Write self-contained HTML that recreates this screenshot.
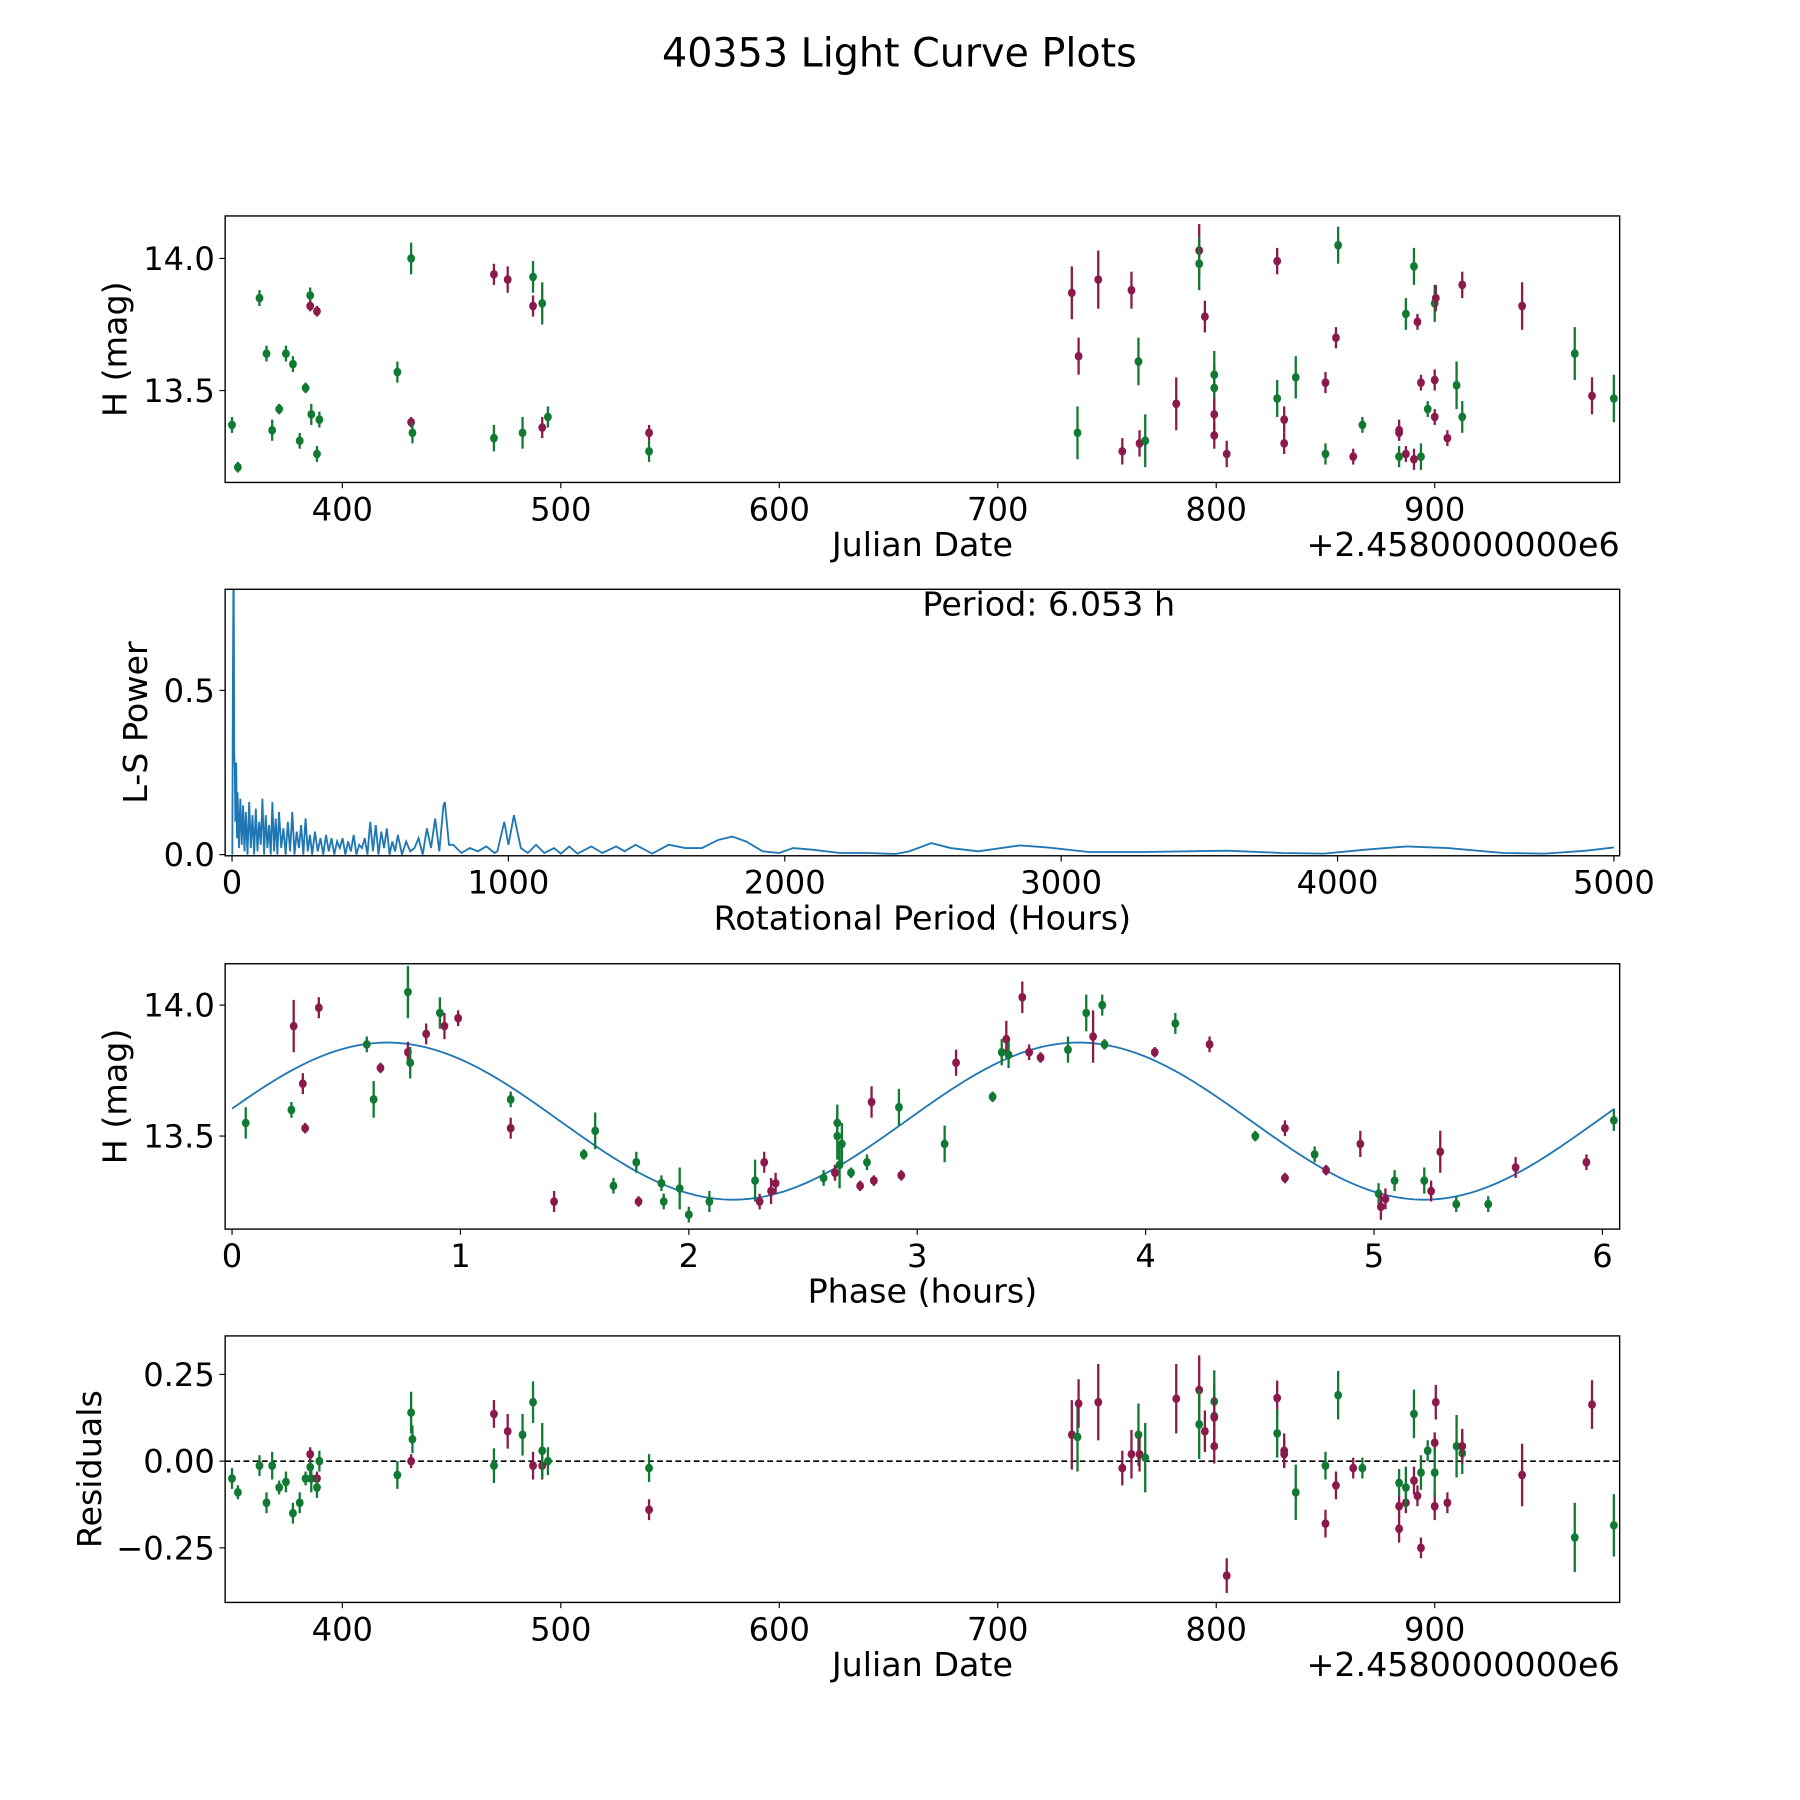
<!DOCTYPE html>
<html><head><meta charset="utf-8"><title>40353 Light Curve Plots</title>
<style>html,body{margin:0;padding:0;background:#fff}svg{display:block}text{font-family:"DejaVu Sans","Liberation Sans",sans-serif;fill:#000}</style>
</head><body>
<svg id="fig" xmlns="http://www.w3.org/2000/svg" width="1800" height="1800" viewBox="0 0 1567 1567">
<rect width="1567" height="1567" fill="#fff"/>
<text x="783" y="58" font-size="34.5" text-anchor="middle">40353 Light Curve Plots</text>
</svg>
<script>
// ---- Panel 1: light curve (date offset from 2458000, mag, err, color g/m)
const lcDates=[349.5,352.2,362.1,365.3,367.9,371.1,374.2,377.4,380.5,383.2,385.3,385.3,385.8,388.4,388.4,389.5,425.2,431.5,431.5,432.1,469.4,469.4,475.7,482.5,487.3,487.3,491.5,491.5,494.1,540.4,540.4,733.9,736.5,737.0,746.0,757.0,761.2,764.4,764.9,767.5,781.7,792.2,792.2,794.8,799.1,799.1,799.1,799.1,804.8,827.9,827.9,831.1,831.1,836.4,850.0,850.0,854.8,855.8,862.7,866.9,883.7,883.7,883.7,886.8,886.8,890.5,890.5,892.1,893.7,893.7,896.8,900.0,900.0,900.0,900.5,905.8,910.0,912.6,912.6,940.0,964.1,972.0,982.0];
const lcMags=[13.37,13.21,13.85,13.64,13.35,13.43,13.64,13.60,13.31,13.51,13.86,13.82,13.41,13.80,13.26,13.39,13.57,13.38,14.00,13.34,13.94,13.32,13.92,13.34,13.93,13.82,13.36,13.83,13.40,13.34,13.27,13.87,13.34,13.63,13.92,13.27,13.88,13.61,13.30,13.31,13.45,14.03,13.98,13.78,13.56,13.51,13.41,13.33,13.26,13.99,13.47,13.39,13.30,13.55,13.53,13.26,13.70,14.05,13.25,13.37,13.35,13.25,13.34,13.26,13.79,13.97,13.24,13.76,13.25,13.53,13.43,13.54,13.40,13.83,13.85,13.32,13.52,13.40,13.90,13.82,13.64,13.48,13.47];
const lcErrs=[0.03,0.02,0.03,0.03,0.04,0.02,0.03,0.03,0.03,0.02,0.03,0.02,0.04,0.02,0.03,0.03,0.04,0.02,0.06,0.04,0.04,0.05,0.05,0.06,0.06,0.04,0.04,0.08,0.04,0.03,0.04,0.10,0.10,0.07,0.11,0.05,0.07,0.09,0.05,0.10,0.10,0.10,0.10,0.06,0.09,0.09,0.06,0.05,0.05,0.05,0.07,0.05,0.04,0.08,0.04,0.04,0.04,0.07,0.03,0.03,0.04,0.04,0.03,0.03,0.06,0.07,0.04,0.03,0.05,0.03,0.03,0.04,0.03,0.07,0.05,0.03,0.09,0.06,0.05,0.09,0.10,0.07,0.09];
const lcColors=['g','g','g','g','g','g','g','g','g','g','g','m','g','m','g','g','g','m','g','g','m','g','m','g','g','m','m','g','g','m','g','m','g','m','m','m','m','g','m','g','m','m','g','m','g','g','m','m','m','m','g','m','m','g','m','g','m','g','m','g','m','g','m','m','g','g','m','m','g','m','g','m','m','g','m','m','g','g','m','m','g','m','g'];
// ---- Panel 2: periodogram (hours, power)
const lsPeriods=[1,3,5,6,8,10,12,15,18,20,25,30,35,40,45,50,56,62,68,74,80,86,92,98,104,110,116,122,128,134,140,146,152,158,164,170,178,186,194,202,210,218,226,234,242,250,258,266,274,282,290,300,310,320,330,340,350,360,370,380,390,400,410,420,430,440,450,460,470,480,490,500,510,520,530,540,550,560,570,580,590,600,615,630,645,660,675,690,705,720,735,750,765,770,785,800,830,860,890,920,950,960,985,1000,1020,1045,1070,1100,1130,1165,1190,1220,1250,1300,1340,1390,1420,1460,1520,1580,1640,1700,1760,1810,1860,1920,1980,2030,2100,2200,2300,2400,2450,2530,2600,2700,2850,2950,3100,3300,3600,3800,3950,4100,4250,4400,4600,4750,4900,5000];
const lsPower=[0.0,0.5,0.82,0.86,0.3,0.26,0.1,0.28,0.05,0.19,0.02,0.17,0.03,0.15,0.01,0.13,0.0,0.16,0.02,0.12,0.0,0.14,0.01,0.1,0.03,0.17,0.0,0.12,0.02,0.09,0.0,0.16,0.01,0.11,0.0,0.13,0.02,0.08,0.0,0.1,0.01,0.13,0.0,0.07,0.02,0.09,0.0,0.11,0.01,0.06,0.0,0.07,0.01,0.05,0.0,0.06,0.01,0.05,0.0,0.04,0.02,0.05,0.0,0.04,0.01,0.06,0.0,0.03,0.02,0.05,0.0,0.1,0.01,0.09,0.0,0.07,0.02,0.08,0.0,0.04,0.01,0.06,0.0,0.04,0.01,0.02,0.05,0.0,0.08,0.02,0.11,0.01,0.15,0.16,0.03,0.03,0.005,0.02,0.01,0.025,0.005,0.01,0.1,0.03,0.12,0.02,0.005,0.03,0.005,0.02,0.003,0.025,0.003,0.025,0.005,0.025,0.01,0.03,0.003,0.03,0.02,0.02,0.045,0.055,0.04,0.01,0.005,0.02,0.015,0.005,0.005,0.002,0.01,0.035,0.02,0.01,0.028,0.022,0.008,0.008,0.012,0.005,0.003,0.015,0.025,0.02,0.005,0.003,0.012,0.022];
// ---- Panel 3: phased curve (hours, mag, color)
const phHours=[0.06,0.27,0.26,0.31,0.32,0.38,0.59,0.62,0.65,0.77,0.77,0.78,0.85,0.91,0.93,0.99,1.22,1.22,1.41,1.54,1.59,1.67,1.77,1.78,1.88,1.89,1.96,2.00,2.09,2.29,2.31,2.33,2.36,2.38,2.59,2.64,2.64,2.65,2.65,2.66,2.67,2.71,2.75,2.78,2.80,2.81,2.92,2.93,3.12,3.17,3.33,3.37,3.39,3.40,3.46,3.49,3.54,3.66,3.74,3.77,3.81,3.82,4.04,4.13,4.28,4.48,4.61,4.61,4.74,4.79,4.94,5.02,5.03,5.05,5.09,5.22,5.25,5.29,5.36,5.50,5.62,5.93,6.05];
const phMags=[13.55,13.92,13.60,13.70,13.53,13.99,13.85,13.64,13.76,14.05,13.82,13.78,13.89,13.97,13.92,13.95,13.64,13.53,13.25,13.43,13.52,13.31,13.40,13.25,13.32,13.25,13.30,13.20,13.25,13.33,13.25,13.40,13.29,13.32,13.34,13.36,13.36,13.55,13.50,13.39,13.47,13.36,13.31,13.40,13.63,13.33,13.61,13.35,13.47,13.78,13.65,13.82,13.87,13.81,14.03,13.82,13.80,13.83,13.97,13.88,14.00,13.85,13.82,13.93,13.85,13.50,13.53,13.34,13.43,13.37,13.47,13.28,13.23,13.26,13.33,13.33,13.29,13.44,13.24,13.24,13.38,13.40,13.56];
const phErrs=[0.06,0.10,0.03,0.04,0.02,0.04,0.03,0.07,0.02,0.1,0.04,0.06,0.04,0.06,0.05,0.03,0.03,0.04,0.04,0.02,0.07,0.03,0.04,0.02,0.03,0.03,0.08,0.03,0.04,0.08,0.03,0.04,0.05,0.04,0.03,0.03,0.03,0.07,0.09,0.09,0.08,0.02,0.02,0.03,0.06,0.02,0.07,0.02,0.07,0.05,0.02,0.05,0.07,0.05,0.06,0.03,0.02,0.05,0.07,0.1,0.04,0.02,0.02,0.04,0.03,0.02,0.03,0.02,0.03,0.02,0.05,0.04,0.05,0.04,0.04,0.05,0.04,0.08,0.03,0.03,0.04,0.03,0.04];
const phColors=['g','m','g','m','m','m','g','g','m','g','m','g','m','g','m','m','g','m','m','g','g','g','g','m','g','g','g','g','g','g','m','m','m','m','g','g','m','g','g','g','g','g','m','g','m','m','g','m','g','m','g','g','m','g','m','m','m','g','g','m','g','g','m','g','m','g','m','m','g','m','m','g','m','m','g','g','m','m','g','g','m','m','g'];
// fitted sinusoid parameters
const fitMean=[13.557], fitAmp=[0.30], fitPeak=[0.68], fitHalfPeriod=[3.0265];
// ---- Panel 4: residuals (date offset, residual)
const resDates=lcDates.slice();
const resVals=[-0.05,-0.09,-0.013,-0.12,-0.013,-0.076,-0.06,-0.15,-0.12,-0.05,-0.017,0.02,-0.05,-0.05,-0.076,0.0,-0.04,0.0,0.14,0.063,0.136,-0.013,0.086,0.076,0.17,-0.013,-0.013,0.03,0.0,-0.14,-0.02,0.076,0.07,0.166,0.17,-0.02,0.02,0.076,0.02,0.01,0.18,0.205,0.106,0.086,0.172,0.13,0.126,0.043,-0.33,0.182,0.08,0.03,0.02,-0.09,-0.18,-0.013,-0.07,0.19,-0.02,-0.02,-0.195,-0.063,-0.13,-0.12,-0.076,0.136,-0.056,-0.10,-0.033,-0.25,0.03,-0.13,0.053,-0.033,0.17,-0.12,0.043,0.023,0.043,-0.04,-0.22,0.163,-0.185];

const NS="http://www.w3.org/2000/svg";
const svg=document.getElementById('fig');
const COL={g:'#117a32',m:'#8b1a4a'};
const TICK_FS=28, TITLE_FS=29;
function mk(tag,attrs,parent){const e=document.createElementNS(NS,tag);for(const k in attrs)e.setAttribute(k,attrs[k]);(parent||svg).appendChild(e);return e;}
function scale(d0,d1,r0,r1){return v=>r0+(v-d0)*(r1-r0)/(d1-d0);}

function axes(p){
  const g=mk('g',{});
  
  
  const cid='clip-'+p.name;
  const cp=mk('clipPath',{id:cid},g);mk('rect',{x:p.L,y:p.T,width:p.R-p.L,height:p.B-p.T},cp);
  const plot=mk('g',{'clip-path':'url(#'+cid+')'},g);
  
  
  p.xt.forEach((t,i)=>{const x=p.sx(t);
    const tk=mk('line',{x1:x,x2:x,y1:p.B,y2:p.B+5,stroke:'#000','stroke-width':1},g);
    
    const tl=mk('text',{x:x,y:p.B+33,'font-size':TICK_FS,'text-anchor':'middle'},g);tl.textContent=p.xl[i];
    });
  p.yt.forEach((t,i)=>{const y=p.sy(t);
    const tk=mk('line',{x1:p.L-5,x2:p.L,y1:y,y2:y,stroke:'#000','stroke-width':1},g);
    
    const tl=mk('text',{x:p.L-9,y:y+10,'font-size':TICK_FS,'text-anchor':'end'},g);tl.textContent=p.yl[i];
    });
  const xt=mk('text',{x:(p.L+p.R)/2,y:p.B+64,'font-size':TITLE_FS,'text-anchor':'middle'},g);xt.textContent=p.xtitle;
  
  const yx=p.ytx,yy=(p.T+p.B)/2;
  const yt=mk('text',{x:yx,y:yy,'font-size':TITLE_FS,'text-anchor':'middle',transform:`rotate(-90 ${yx} ${yy})`},g);yt.textContent=p.ytitle;
  
  if(p.offset){const o=mk('text',{x:p.R,y:p.B+64,'font-size':TITLE_FS,'text-anchor':'end'},g);o.textContent=p.offset;
    }
  p.plot=plot;p.g=g;return p;
}
function frame(p){const f=mk('rect',{x:p.L,y:p.T,width:p.R-p.L,height:p.B-p.T,fill:'none',stroke:'#000','stroke-width':1.2},p.g);
  }
function errPoints(p,xs,ys,es,cs,nm){
  xs.forEach((xv,i)=>{const c=COL[cs[i]]||COL.g;const x=p.sx(xv);
    const gg=mk('g',{},p.plot);
    
    
    mk('line',{x1:x,x2:x,y1:p.sy(ys[i]-es[i]),y2:p.sy(ys[i]+es[i]),stroke:c,'stroke-width':2},gg);
    mk('ellipse',{cx:x,cy:p.sy(ys[i]),rx:3.4,ry:3.8,fill:c},gg);});
}
const jdTicks=[400,500,600,700,800,900];
// Panel 1
const p1=axes({name:'light-curve-panel',L:196,R:1410,T:188,B:420,sx:scale(400,900,298,1249),sy:scale(14.0,13.5,225,340),
  xt:jdTicks,xl:jdTicks.map(String),yt:[13.5,14.0],yl:['13.5','14.0'],xtitle:'Julian Date',ytitle:'H (mag)',ytx:110,offset:'+2.4580000000e6'});
errPoints(p1,lcDates,lcMags,lcErrs,lcColors,'light-curve-point');frame(p1);
// Panel 2
const p2=axes({name:'periodogram-panel',L:196,R:1410,T:513,B:745,sx:scale(0,5000,202,1405),sy:scale(0,0.5,744,601),
  xt:[0,1000,2000,3000,4000,5000],xl:['0','1000','2000','3000','4000','5000'],yt:[0,0.5],yl:['0.0','0.5'],xtitle:'Rotational Period (Hours)',ytitle:'L-S Power',ytx:128});
{let d='';lsPeriods.forEach((v,i)=>{d+=(i?'L':'M')+p2.sx(v).toFixed(2)+' '+p2.sy(lsPower[i]).toFixed(2);});
 const ln=mk('path',{d:d,fill:'none',stroke:'#1f77b4','stroke-width':1.6},p2.plot);
 }
{const t=mk('text',{x:913,y:536,'font-size':TITLE_FS,'text-anchor':'middle'},p2.g);t.textContent='Period: 6.053 h';
 }
frame(p2);
// Panel 3
const p3=axes({name:'phase-panel',L:196,R:1410,T:839,B:1070,sx:scale(0,6,202,1395),sy:scale(14.0,13.5,875,989),
  xt:[0,1,2,3,4,5,6],xl:['0','1','2','3','4','5','6'],yt:[13.5,14.0],yl:['13.5','14.0'],xtitle:'Phase (hours)',ytitle:'H (mag)',ytx:110});
{let d='';for(let k=0;k<=200;k++){const ph=6.053*k/200;const m=fitMean[0]+fitAmp[0]*Math.cos(2*Math.PI*(ph-fitPeak[0])/fitHalfPeriod[0]);
 d+=(k?'L':'M')+p3.sx(ph).toFixed(2)+' '+p3.sy(m).toFixed(2);}
 const ln=mk('path',{d:d,fill:'none',stroke:'#1f77b4','stroke-width':1.6},p3.plot);
 }
errPoints(p3,phHours,phMags,phErrs,phColors,'phase-point');frame(p3);
// Panel 4
const p4=axes({name:'residuals-panel',L:196,R:1410,T:1163,B:1395,sx:scale(400,900,298,1249),sy:scale(0,0.25,1272,1196.5),
  xt:jdTicks,xl:jdTicks.map(String),yt:[-0.25,0,0.25],yl:['\u22120.25','0.00','0.25'],xtitle:'Julian Date',ytitle:'Residuals',ytx:88,offset:'+2.4580000000e6'});
{const z=mk('line',{x1:196,x2:1410,y1:p4.sy(0),y2:p4.sy(0),stroke:'#000','stroke-width':1.4,'stroke-dasharray':'5,3'},p4.plot);
 }
errPoints(p4,resDates,resVals,lcErrs,lcColors,'residual-point');frame(p4);
</script>
</body></html>
